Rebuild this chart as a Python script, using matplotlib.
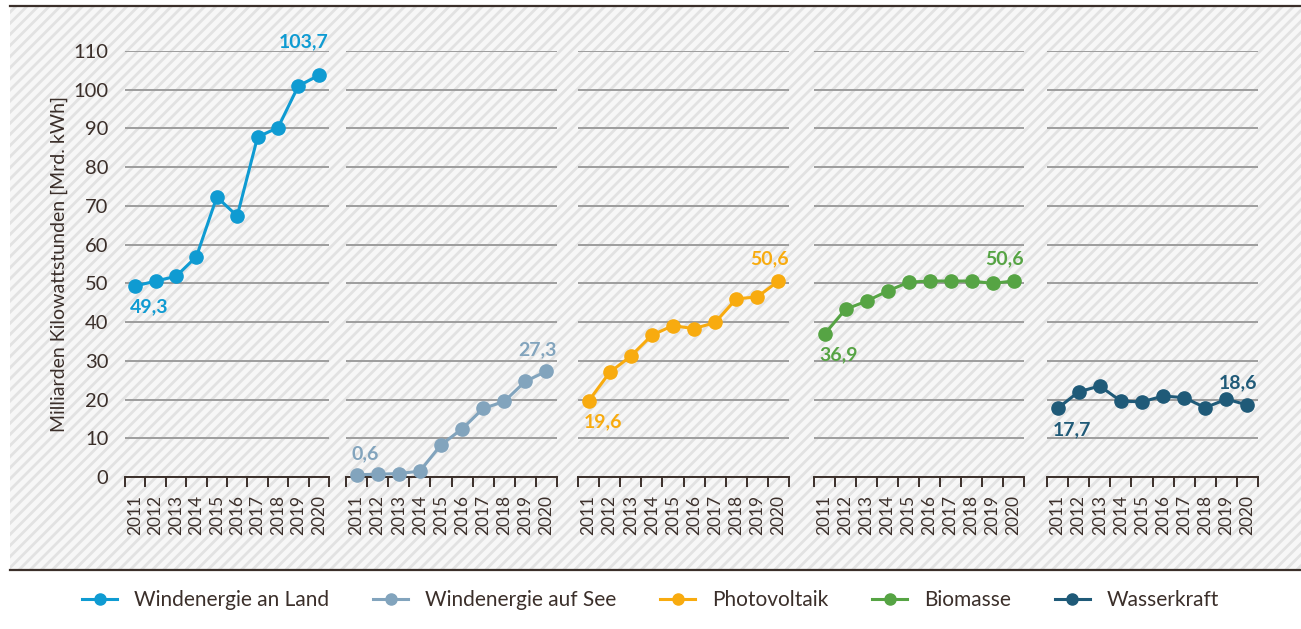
import numpy as np
import matplotlib

matplotlib.use('Agg')
import matplotlib.pyplot as plt
from matplotlib.patches import Rectangle
from matplotlib.lines import Line2D

plt.rcParams['font.family'] = ['Lato', 'DejaVu Sans']
plt.rcParams['hatch.linewidth'] = 2.0

years = ['2011', '2012', '2013', '2014', '2015', '2016', '2017', '2018', '2019', '2020']
names = ['Windenergie an Land', 'Windenergie auf See', 'Photovoltaik', 'Biomasse', 'Wasserkraft']
colors = ['#0f9bd2', '#82a4bd', '#f8ab0f', '#56a444', '#1f5a78']

wind_land = [49.3, 50.6, 51.8, 56.9, 72.3, 67.4, 87.8, 90.2, 101.0, 103.7]
wind_see = [0.6, 0.7, 0.9, 1.5, 8.3, 12.4, 17.7, 19.5, 24.7, 27.3]
pv = [19.6, 27.0, 31.2, 36.6, 39.1, 38.3, 39.9, 46.0, 46.5, 50.6]
biomasse = [36.9, 43.3, 45.4, 48.0, 50.3, 50.6, 50.6, 50.6, 50.0, 50.6]
wasser = [17.7, 22.0, 23.5, 19.6, 19.4, 20.9, 20.5, 17.9, 20.1, 18.6]
series = [wind_land, wind_see, pv, biomasse, wasser]

# label placement (start label above or below, end label offset in px)
start_above = [False, True, False, False, False]
end_dy = [34, 22, 22, 22, 22]

txt = '#3b2f2a'
W, H = 1301, 629
fig = plt.figure(figsize=(W / 100, H / 100), dpi=100)

bg = Rectangle((10 / W, (H - 569) / H), 1 - 10 / W, 563 / H, transform=fig.transFigure,
               facecolor='#f7f7f7', edgecolor='#e2e2e2', hatch='///', lw=0, zorder=-2)
fig.patches.append(bg)
for yy in [5.5, 569.5]:
    fig.lines.append(Line2D([10 / W, 1], [(H - yy) / H] * 2, transform=fig.transFigure,
                            color=txt, lw=1.6))

lefts = [125, 346, 578, 814, 1047]
rights = [329, 557, 789, 1024, 1258]
bottom, top = 477, 51

x = np.arange(len(years))
for i, vals in enumerate(series):
    ax = fig.add_axes([lefts[i] / W, (H - bottom) / H, (rights[i] - lefts[i]) / W, (bottom - top) / H])
    ax.set_facecolor('none')
    ax.set_xlim(-0.5, 9.5)
    ax.set_ylim(0, 110)
    ax.set_yticks(np.arange(0, 111, 10))
    ax.yaxis.grid(True, color='#9d9d9d', lw=1.4)
    ax.set_axisbelow(True)
    for s in ['top', 'right', 'left']:
        ax.spines[s].set_visible(False)
    ax.spines['bottom'].set_color(txt)
    ax.spines['bottom'].set_linewidth(1.4)
    ax.set_xticks(np.arange(-0.5, 10, 1))
    ax.set_xticklabels([])
    ax.tick_params(axis='x', which='major', length=7, width=1.4, color=txt, direction='out')
    ax.set_xticks(x, minor=True)
    ax.set_xticklabels(years, minor=True, rotation=90, fontsize=12.5, color=txt)
    ax.tick_params(axis='x', which='minor', length=0, pad=13)
    ax.tick_params(axis='y', length=0, labelsize=14.5, labelcolor=txt, pad=12)
    if i > 0:
        ax.set_yticklabels([])
    else:
        ax.set_ylabel('Milliarden Kilowattstunden [Mrd. kWh]', fontsize=14, color=txt, labelpad=4)

    ax.plot(x, vals, '-o', color=colors[i], lw=2.2, ms=9.5, clip_on=False, label=names[i], zorder=3)

    sv = f'{vals[0]:.1f}'.replace('.', ',')
    ev = f'{vals[-1]:.1f}'.replace('.', ',')
    ax.annotate(sv, (x[0], vals[0]), xytext=(-5, 21 if start_above[i] else -21),
                textcoords='offset pixels', ha='left', va='center', fontsize=14,
                fontweight='bold', color=colors[i], annotation_clip=False)
    ax.annotate(ev, (x[-1], vals[-1]), xytext=(10, end_dy[i]),
                textcoords='offset pixels', ha='right', va='center', fontsize=14,
                fontweight='bold', color=colors[i], annotation_clip=False)

handles = [Line2D([], [], color=c, marker='o', lw=2.2, ms=8) for c in colors]
fig.legend(handles, names, loc='center', bbox_to_anchor=(0.5, 29 / H), ncol=5, frameon=False,
           fontsize=15, labelcolor=txt, handlelength=1.7, columnspacing=2.1, handletextpad=0.8)

plt.savefig('out.png', dpi=100)
